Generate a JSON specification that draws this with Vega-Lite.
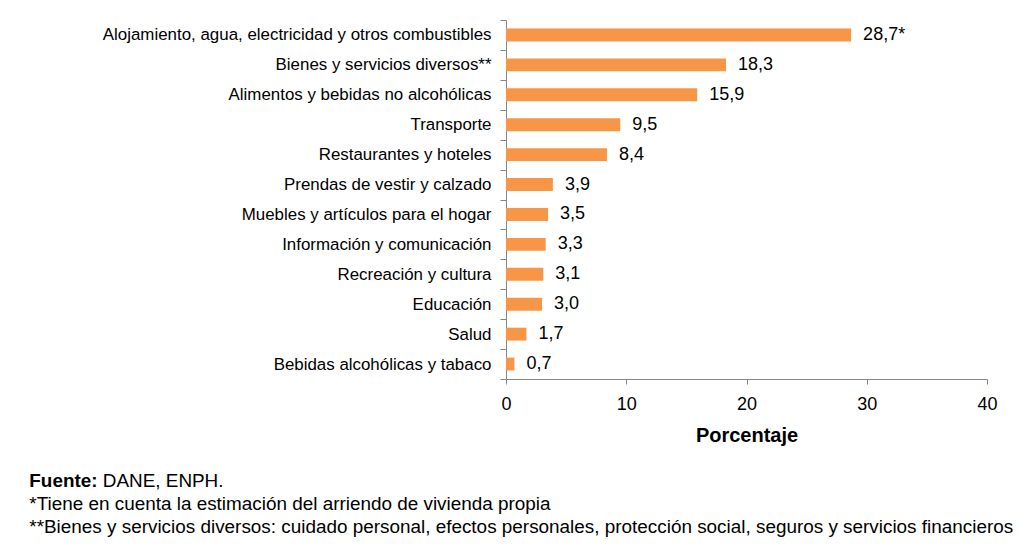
{
  "$schema": "https://vega.github.io/schema/vega-lite/v6.json",
  "width": 481,
  "height": 359,
  "autosize": {"type": "none"},
  "padding": {"left": 506, "top": 20, "right": 33, "bottom": 173},
  "background": "white",
  "config": {"view": {"stroke": null}, "font": "Liberation Sans"},
  "data": {
    "values": [
      {"categoria": "Alojamiento, agua, electricidad y otros combustibles", "valor": 28.7, "etiqueta": "28,7*"},
      {"categoria": "Bienes y servicios diversos**", "valor": 18.3, "etiqueta": "18,3"},
      {"categoria": "Alimentos y bebidas no alcohólicas", "valor": 15.9, "etiqueta": "15,9"},
      {"categoria": "Transporte", "valor": 9.5, "etiqueta": "9,5"},
      {"categoria": "Restaurantes y hoteles", "valor": 8.4, "etiqueta": "8,4"},
      {"categoria": "Prendas de vestir y calzado", "valor": 3.9, "etiqueta": "3,9"},
      {"categoria": "Muebles y  artículos para el hogar", "valor": 3.5, "etiqueta": "3,5"},
      {"categoria": "Información y comunicación", "valor": 3.3, "etiqueta": "3,3"},
      {"categoria": "Recreación y cultura", "valor": 3.1, "etiqueta": "3,1"},
      {"categoria": "Educación", "valor": 3.0, "etiqueta": "3,0"},
      {"categoria": "Salud", "valor": 1.7, "etiqueta": "1,7"},
      {"categoria": "Bebidas alcohólicas y tabaco", "valor": 0.7, "etiqueta": "0,7"}
    ]
  },
  "title": {
    "text": "Fuente:",
    "subtitle": [
      "\u200b\u00a0\u00a0\u00a0\u00a0\u00a0\u00a0\u00a0\u00a0\u00a0\u00a0\u00a0\u00a0\u00a0\u00a0DANE, ENPH.",
      "*Tiene en cuenta la estimación del arriendo  de vivienda propia",
      "**Bienes y servicios diversos: cuidado personal, efectos personales, protección social, seguros y servicios financieros"
    ],
    "orient": "bottom",
    "anchor": "start",
    "frame": "bounds",
    "dx": -73,
    "offset": 27,
    "font": "Liberation Sans",
    "fontSize": 18.9,
    "fontWeight": "bold",
    "color": "#000000",
    "subtitleFont": "Liberation Sans",
    "subtitleFontSize": 18.9,
    "subtitleFontWeight": "normal",
    "subtitleColor": "#000000",
    "subtitleLineHeight": 23,
    "subtitlePadding": -18.9
  },
  "encoding": {
    "y": {
      "field": "categoria",
      "type": "nominal",
      "sort": null,
      "scale": {"paddingInner": 0, "paddingOuter": 0},
      "axis": {
        "title": null,
        "tickBand": "extent",
        "domainColor": "#868686",
        "tickColor": "#868686",
        "tickSize": 6,
        "labelPadding": 9,
        "labelFont": "Liberation Sans",
        "labelFontSize": 16.9,
        "labelColor": "#000000",
        "labelLimit": 0
      }
    },
    "x": {
      "field": "valor",
      "type": "quantitative",
      "scale": {"domain": [0, 40]},
      "axis": {
        "title": "Porcentaje",
        "values": [0, 10, 20, 30, 40],
        "grid": false,
        "labelFlush": false,
        "domainColor": "#868686",
        "tickColor": "#868686",
        "tickSize": 5,
        "labelPadding": 11,
        "labelFont": "Liberation Sans",
        "labelFontSize": 18,
        "labelColor": "#000000",
        "titleFont": "Liberation Sans",
        "titleFontSize": 20,
        "titleFontWeight": "bold",
        "titleColor": "#000000",
        "titlePadding": 12
      }
    }
  },
  "layer": [
    {
      "mark": {"type": "bar", "color": "#F79646", "height": {"band": 0.43}}
    },
    {
      "mark": {"type": "text", "align": "left", "baseline": "middle", "dx": 12, "fontSize": 18, "font": "Liberation Sans", "color": "#000000"},
      "encoding": {"text": {"field": "etiqueta"}}
    }
  ]
}
